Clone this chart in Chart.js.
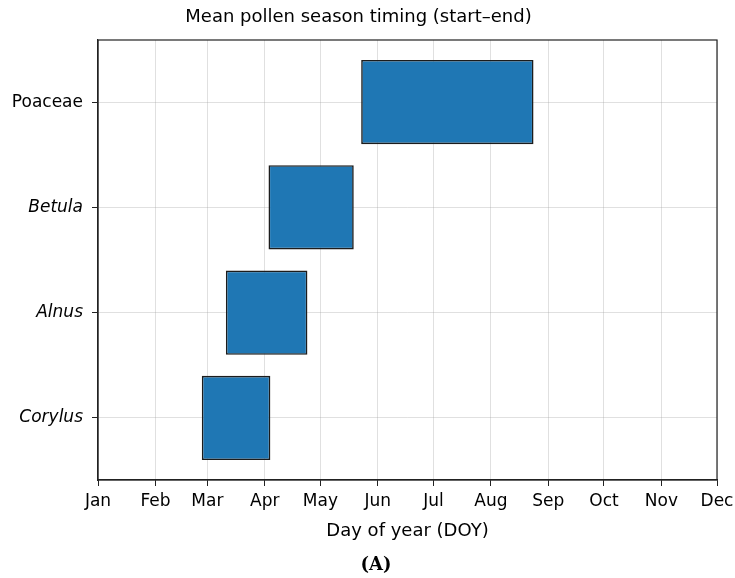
<!DOCTYPE html>
<html>
<head>
<meta charset="utf-8">
<script src="https://cdn.jsdelivr.net/npm/chart.js@4.4.1/dist/chart.umd.min.js"></script>
<style>
  html, body { margin: 0; padding: 0; background: #fff; }
  #wrap { width: 735px; height: 578px; }
</style>
</head>
<body>
<div id="wrap"><canvas id="seasonChart" width="735" height="578"></canvas></div>
<script>
// taxa from bottom (index 0) to top
const taxa = ["Corylus", "Alnus", "Betula", "Poaceae"];
const seasonStart = [57, 70, 93, 143];
const seasonEnd = [94, 114, 139, 236];

const monthTicks = [1, 32, 60, 91, 121, 152, 182, 213, 244, 274, 305, 335];
const monthLabels = ["Jan", "Feb", "Mar", "Apr", "May", "Jun", "Jul", "Aug", "Sep", "Oct", "Nov", "Dec"];

const FONT = "'DejaVu Sans', sans-serif";

const frame = {
  id: "frame",
  afterDraw(chart) {
    const { ctx, chartArea: a } = chart;
    ctx.save();
    ctx.strokeStyle = "#222";
    ctx.lineWidth = 1.2;
    ctx.strokeRect(a.left, a.top, a.right - a.left, a.bottom - a.top);
    ctx.fillStyle = "#000";
    ctx.font = "bold 18px 'DejaVu Serif', serif";
    ctx.textAlign = "center";
    ctx.textBaseline = "middle";
    ctx.fillText("(A)", 376, 565);
    ctx.restore();
  }
};

const rows = taxa.map((t, i) => ({ y: i, x: [seasonStart[i], seasonEnd[i]] }));

new Chart(document.getElementById("seasonChart"), {
  type: "bar",
  data: {
    datasets: [
      {
        data: rows,
        backgroundColor: "#1f77b4",
        borderColor: "#1c1c1c",
        borderWidth: 1.6,
        borderSkipped: false,
        barPercentage: 1,
        categoryPercentage: 0.8
      }
    ]
  },
  options: {
    responsive: false,
    animation: false,
    indexAxis: "y",
    layout: { padding: { left: 0, right: 18, top: 0, bottom: 36 } },
    plugins: {
      legend: { display: false },
      tooltip: { enabled: false },
      title: {
        display: true,
        text: "Mean pollen season timing (start\u2013end)",
        color: "#000",
        font: { family: FONT, size: 18, weight: "normal" },
        padding: { top: 7, bottom: 11.4 }
      }
    },
    scales: {
      x: {
        type: "linear",
        min: 1,
        max: 335,
        z: 1,
        afterBuildTicks: (s) => { s.ticks = monthTicks.map((v) => ({ value: v })); },
        afterFit: (s) => { s.height = 62; s.paddingLeft = 0; s.paddingRight = 0; },
        ticks: {
          color: "#000",
          font: { family: FONT, size: 17 },
          padding: 5,
          maxRotation: 0,
          autoSkip: false,
          callback: (v) => monthLabels[monthTicks.indexOf(v)]
        },
        grid: { color: "rgba(165,165,165,0.35)", tickColor: "#222", tickLength: 6 },
        border: { color: "#222", width: 1.2 },
        title: {
          display: true,
          text: "Day of year (DOY)",
          color: "#000",
          font: { family: FONT, size: 18 },
          padding: { top: 0, bottom: 0 }
        }
      },
      y: {
        type: "linear",
        min: -0.59,
        max: 3.59,
        offset: false,
        z: 1,
        afterBuildTicks: (s) => { s.ticks = taxa.map((t, i) => ({ value: i })); },
        afterFit: (s) => { s.width = 98; },
        ticks: {
          color: "#000",
          padding: 9,
          font: (c) => ({
            family: FONT,
            size: 17,
            style: c.tick && taxa[c.tick.value] === "Poaceae" ? "normal" : "italic"
          }),
          callback: (v) => taxa[v]
        },
        grid: { offset: false, color: "rgba(165,165,165,0.35)", tickColor: "#222", tickLength: 6 },
        border: { color: "#222", width: 1.2 }
      }
    }
  },
  plugins: [frame]
});
</script>
</body>
</html>
